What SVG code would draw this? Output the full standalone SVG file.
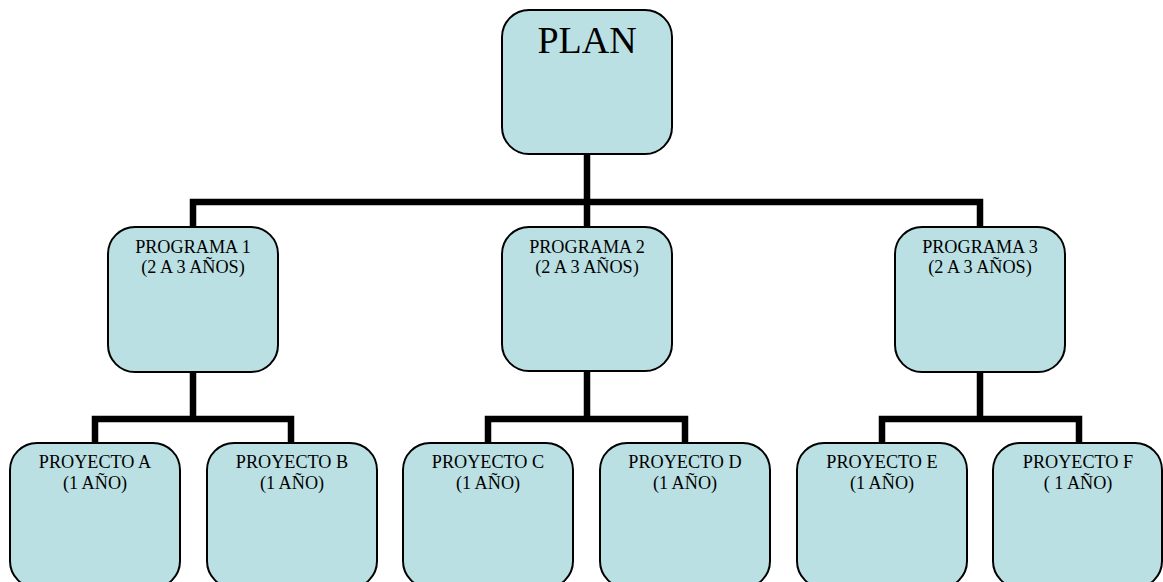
<svg xmlns="http://www.w3.org/2000/svg" width="1163" height="582" viewBox="0 0 1163 582">
  <style>
    .box { fill: #BBE0E3; stroke: #000; stroke-width: 2; }
    .wire { fill: none; stroke: #000; stroke-width: 6.5; stroke-linejoin: miter; stroke-linecap: square; }
    text { font-family: "Liberation Serif", "Times New Roman", serif; fill: #000; text-anchor: middle; }
    .lbl { font-size: 18.2px; }
    .big { font-size: 38px; }
  </style>
  <rect width="1163" height="582" fill="#fff"/>

  <!-- org chart connectors -->
  <g id="connectors">
    <path class="wire" d="M587 155 V202 M193 227 V202 H980 V227 M587 202 V227"/>
    <path class="wire" d="M193 372 V419 M95 443 V419 H291 V443"/>
    <path class="wire" d="M587 371 V419 M488 443 V419 H685 V443"/>
    <path class="wire" d="M980 372 V419 M882 443 V419 H1079 V443"/>
  </g>

  <g id="plan">
    <rect class="box" x="502" y="10" width="170" height="144" rx="27"/>
    <text class="big" x="587" y="53">PLAN</text>
  </g>

  <g id="programa1">
    <rect class="box" x="108" y="227" width="170" height="145" rx="27"/>
    <text class="lbl" x="193" y="253">PROGRAMA 1</text>
    <text class="lbl" x="193" y="273">(2 A 3 AÑOS)</text>
  </g>
  <g id="programa2">
    <rect class="box" x="502" y="227" width="170" height="144" rx="27"/>
    <text class="lbl" x="587" y="253">PROGRAMA 2</text>
    <text class="lbl" x="587" y="273">(2 A 3 AÑOS)</text>
  </g>
  <g id="programa3">
    <rect class="box" x="895" y="227" width="170" height="145" rx="27"/>
    <text class="lbl" x="980" y="253">PROGRAMA 3</text>
    <text class="lbl" x="980" y="273">(2 A 3 AÑOS)</text>
  </g>

  <g id="proyectoA">
    <rect class="box" x="10" y="443" width="170" height="145" rx="27"/>
    <text class="lbl" x="95" y="468">PROYECTO A</text>
    <text class="lbl" x="95" y="489">(1 AÑO)</text>
  </g>
  <g id="proyectoB">
    <rect class="box" x="207" y="443" width="170" height="145" rx="27"/>
    <text class="lbl" x="292" y="468">PROYECTO B</text>
    <text class="lbl" x="292" y="489">(1 AÑO)</text>
  </g>
  <g id="proyectoC">
    <rect class="box" x="403" y="443" width="170" height="145" rx="27"/>
    <text class="lbl" x="488" y="468">PROYECTO C</text>
    <text class="lbl" x="488" y="489">(1 AÑO)</text>
  </g>
  <g id="proyectoD">
    <rect class="box" x="600" y="443" width="170" height="145" rx="27"/>
    <text class="lbl" x="685" y="468">PROYECTO D</text>
    <text class="lbl" x="685" y="489">(1 AÑO)</text>
  </g>
  <g id="proyectoE">
    <rect class="box" x="797" y="443" width="170" height="145" rx="27"/>
    <text class="lbl" x="882" y="468">PROYECTO E</text>
    <text class="lbl" x="882" y="489">(1 AÑO)</text>
  </g>
  <g id="proyectoF">
    <rect class="box" x="993" y="443" width="169" height="145" rx="27"/>
    <text class="lbl" x="1078" y="468">PROYECTO F</text>
    <text class="lbl" x="1078" y="489">( 1 AÑO)</text>
  </g>
</svg>
